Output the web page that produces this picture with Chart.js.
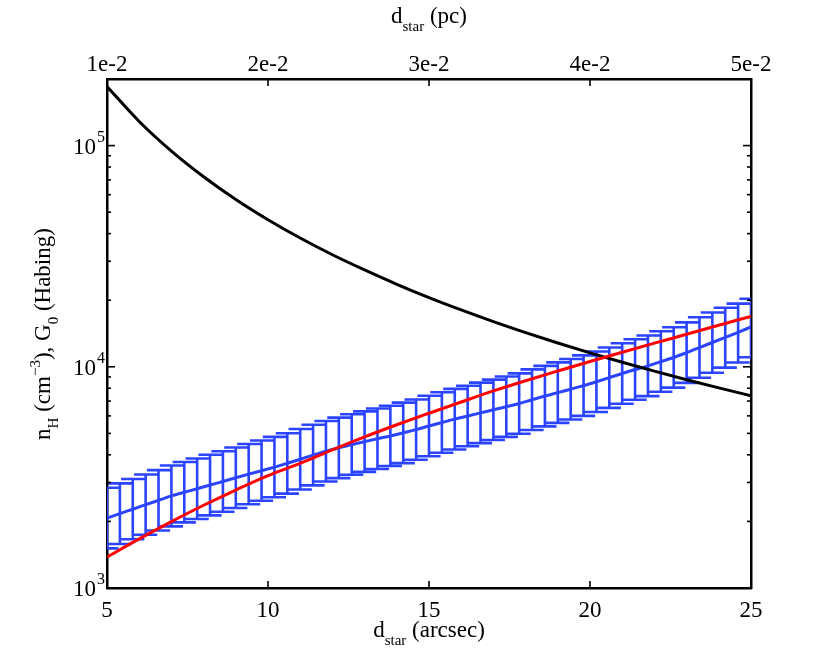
<!DOCTYPE html>
<html><head><meta charset="utf-8">
<script src="https://cdn.jsdelivr.net/npm/chart.js@4.4.1/dist/chart.umd.min.js"></script>
<style>html,body{margin:0;padding:0;background:#fff}#wrap{width:830px;height:656px}</style>
</head><body><div id="wrap"><canvas id="c" width="830" height="656"></canvas></div>
<script>
// ---- data ----
const barX = [5.0,5.4,5.8,6.2,6.6,7.0,7.4,7.8,8.2,8.6,9.0,9.4,9.8,10.2,10.6,11.0,11.4,11.8,12.2,12.6,
  13.0,13.4,13.8,14.2,14.6,15.0,15.4,15.8,16.2,16.6,17.0,17.4,17.8,18.2,18.6,19.0,19.4,19.8,20.2,20.6,
  21.0,21.4,21.8,22.2,22.6,23.0,23.4,23.8,24.2,24.6,25.0];
const blueMid = [2070,2170,2270,2380,2490,2610,2710,2810,2920,3030,3150,3270,3390,3520,3660,3820,3990,4150,4300,4450,
  4590,4730,4870,5030,5200,5400,5600,5800,5990,6190,6390,6600,6820,7100,7370,7640,7920,8220,8560,8930,
  9330,9720,10100,10560,11020,11590,12220,12880,13580,14320,15140];
const blueHi = [2840,2970,3110,3260,3410,3580,3710,3850,4000,4150,4320,4480,4640,4820,5010,5230,5470,5690,5890,6100,
  6290,6480,6670,6890,7120,7400,7670,7950,8210,8480,8750,9040,9340,9730,10100,10470,10850,11260,11730,12230,
  12780,13320,13840,14470,15100,15880,16740,17600,18500,19300,20300];
const blueLo = [1510,1580,1660,1740,1820,1900,1980,2050,2130,2210,2300,2390,2480,2570,2670,2790,2910,3030,3140,3250,
  3350,3450,3560,3670,3800,3940,4090,4230,4370,4520,4670,4820,4980,5180,5380,5580,5780,6000,6250,6520,
  6810,7100,7370,7710,8050,8460,8920,9400,9910,10450,11050];
const curveX = [5,6,7,8,9,10,11,12,13,14,15,16,17,18,19,20,21,22,23,24,25];
const redY = [1380,1667,1995,2366,2773,3221,3660,4210,4820,5470,6166,6934,7780,8650,9572,10568,11641,12794,14028,15417,16904];
const blackY = [185000,128500,94400,72300,57100,46250,38200,32100,27400,23600,20550,18070,16000,14270,12810,11560,10490,9560,8740,8030,7400];
const xTicks = [5,10,15,20,25];
const pcTicks = [0.01,0.02,0.03,0.04,0.05];
const pcLabels = ['1e-2','2e-2','3e-2','4e-2','5e-2'];
const yMajor = [1000,10000,100000];
const yExp = ['3','4','5'];
const yMinor = [2000,3000,4000,5000,6000,7000,8000,9000,20000,30000,40000,50000,60000,70000,80000,90000];

// ---- style ----
const BLUE = '#2a44ff', RED = '#ff0000', BLACK = '#000000';
const CAP = 0.36;
const FONT = '"Liberation Serif", "Times New Roman", serif';

const ebPts = [];
barX.forEach((x, i) => {
  ebPts.push({x: x - CAP, y: blueHi[i]}, {x: x + CAP, y: blueHi[i]}, {x: x, y: null},
             {x: x, y: blueLo[i]}, {x: x, y: blueHi[i]}, {x: x, y: null},
             {x: x - CAP, y: blueLo[i]}, {x: x + CAP, y: blueLo[i]}, {x: x, y: null});
});
const pts = (xs, ys) => xs.map((x, i) => ({x: x, y: ys[i]}));

function drawRich(ctx, parts, x, y) {
  let total = 0;
  parts.forEach(p => { ctx.font = p.s + 'px ' + FONT; p.w = ctx.measureText(p.t).width; total += p.w; });
  let cx = x - total / 2;
  ctx.textAlign = 'left';
  parts.forEach(p => { ctx.font = p.s + 'px ' + FONT; ctx.fillText(p.t, cx, y + (p.dy || 0)); cx += p.w; });
}

const decor = {
  id: 'decor',
  afterDraw(chart) {
    const {ctx, chartArea: a, scales: s} = chart;
    ctx.save();
    ctx.strokeStyle = '#000'; ctx.lineWidth = 1.6;
    const ln = (x1, y1, x2, y2) => { ctx.beginPath(); ctx.moveTo(x1, y1); ctx.lineTo(x2, y2); ctx.stroke(); };
    xTicks.forEach(v => { const p = s.x.getPixelForValue(v); ln(p, a.bottom, p, a.bottom - 7); });
    pcTicks.forEach(v => { const p = s.x2.getPixelForValue(v); ln(p, a.top, p, a.top + 7); });
    yMajor.forEach(v => { const p = s.y.getPixelForValue(v); ln(a.left, p, a.left + 8, p); ln(a.right, p, a.right - 8, p); });
    yMinor.forEach(v => { const p = s.y.getPixelForValue(v); ln(a.left, p, a.left + 4, p); ln(a.right, p, a.right - 4, p); });

    ctx.fillStyle = '#000'; ctx.textBaseline = 'alphabetic';
    ctx.font = '23px ' + FONT; ctx.textAlign = 'center';
    xTicks.forEach(v => ctx.fillText(String(v), s.x.getPixelForValue(v), 617));
    pcTicks.forEach((v, i) => ctx.fillText(pcLabels[i], s.x2.getPixelForValue(v), 71));
    yMajor.forEach((v, i) => {
      const p = s.y.getPixelForValue(v);
      ctx.font = '23px ' + FONT; ctx.textAlign = 'right';
      ctx.fillText('10', 96, p + 8);
      ctx.font = '16px ' + FONT; ctx.textAlign = 'left';
      ctx.fillText(yExp[i], 97, p - 4);
    });
    // axis titles
    drawRich(ctx, [{t: 'd', s: 23}, {t: 'star', s: 15, dy: 8}, {t: ' (pc)', s: 23}], (a.left + a.right) / 2, 23);
    drawRich(ctx, [{t: 'd', s: 23}, {t: 'star', s: 15, dy: 8}, {t: ' (arcsec)', s: 23}], (a.left + a.right) / 2, 637);
    ctx.save();
    ctx.translate(50, 334); ctx.rotate(-Math.PI / 2);
    drawRich(ctx, [{t: 'n', s: 23}, {t: 'H', s: 15, dy: 8}, {t: ' (cm', s: 23}, {t: '\u22123', s: 15, dy: -10},
                   {t: '), G', s: 23}, {t: '0', s: 15, dy: 8}, {t: ' (Habing)', s: 23}], 0, 0);
    ctx.restore();
    ctx.restore();
  }
};

const zero = (sc) => { if (sc.isHorizontal()) sc.height = 0; else sc.width = 0; };
const axisCommon = {
  display: true,
  grid: {display: false, drawTicks: false},
  ticks: {display: false},
  border: {display: true, color: '#000', width: 2.5},
  afterFit: zero
};

new Chart(document.getElementById('c'), {
  type: 'line',
  data: {
    datasets: [
      {data: pts(curveX, redY), borderColor: RED, borderWidth: 3, pointRadius: 0, cubicInterpolationMode: 'monotone', xAxisID: 'x', yAxisID: 'y'},
      {data: pts(curveX, blackY), borderColor: BLACK, borderWidth: 3, pointRadius: 0, cubicInterpolationMode: 'monotone', xAxisID: 'x', yAxisID: 'y'},
      {data: pts(barX, blueMid), borderColor: BLUE, borderWidth: 3, pointRadius: 0, cubicInterpolationMode: 'monotone', xAxisID: 'x', yAxisID: 'y'},
      {data: ebPts, borderColor: BLUE, borderWidth: 2.6, pointRadius: 0, tension: 0, spanGaps: false, xAxisID: 'x', yAxisID: 'y'}
    ]
  },
  options: {
    responsive: false, animation: false, events: [],
    layout: {padding: {left: 107, right: 79, top: 79, bottom: 68}},
    plugins: {legend: {display: false}, tooltip: {enabled: false}},
    scales: {
      x: Object.assign({}, axisCommon, {type: 'linear', position: 'bottom', min: 5, max: 25}),
      x2: Object.assign({}, axisCommon, {type: 'linear', position: 'top', min: 0.01, max: 0.05}),
      y: Object.assign({}, axisCommon, {type: 'logarithmic', position: 'left', min: 1000, max: 200000}),
      yR: Object.assign({}, axisCommon, {type: 'logarithmic', position: 'right', min: 1000, max: 200000})
    }
  },
  plugins: [decor]
});
</script></body></html>
